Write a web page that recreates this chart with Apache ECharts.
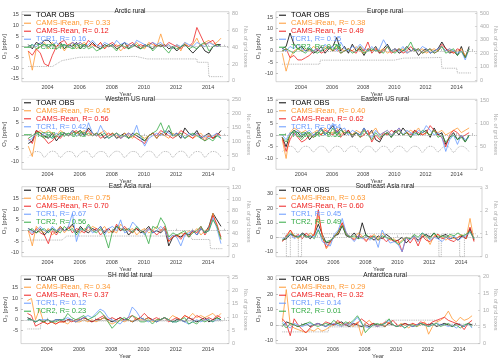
<!DOCTYPE html>
<html>
<head>
<meta charset="utf-8">
<script src="https://cdn.jsdelivr.net/npm/echarts@6/dist/echarts.min.js"></script>
<style>html,body{margin:0;background:#fff}#c{width:500px;height:360px}</style>
</head>
<body>
<div id="c"></div>
<script>
// quarterly time stamps (decimal years), 2002.8 .. 2014.8
var t = [];
for (var i = 0; i < 49; i++) t.push(+(2002.8 + i * 0.25).toFixed(2));

var titles = ['Arctic rural', 'Europe rural', 'Western US rural', 'Eastern US rural',
              'East Asia rural', 'Southeast Asia rural', 'SH mid lat rural', 'Antarctica rural'];
var rCamsI = ['0.33', '0.38', '0.45', '0.40', '0.75', '0.63', '0.34', '0.29'];
var rCams  = ['0.12', '0.49', '0.56', '0.62', '0.70', '0.60', '0.37', '0.32'];
var rTcr1  = ['0.16', '0.15', '0.42', '0.54', '0.67', '0.45', '0.12', '0.14'];
var rTcr2  = ['0.09', '0.28', '0.42', '0.56', '0.56', '0.49', '0.23', '0.01'];

// Arctic
var arcticObs   = [1, -1,2,1,3, 3,1,0,2, -1,1,0,2, -1,1,0,2, 0,-1,1,0, 1,-1,0,2, -1,1,0,-1, 1,0,-1,1, 0,1,-1,0, -2,0,1,-1, -3,-1,1,-2, -3,0,1,1];
var arcticCamsI = [-2, -11,-1,0,2, -1,2,0,1, -2,1,2,-1, 1,2,0,1, 0,2,-1,1, 0,1,-2,0, 1,0,2,0, -1,2,1,0, 6,0,1,-1, 1,-2,2,0, 1,4,0,2, 3,1,2,4];
var arcticCams  = [-2, -4,-1,-3,-8, -9,-4,0,2, 3,0,2,1, 2,0,3,1, 0,2,-1,1, 2,0,1,-1, 1,2,0,1, 0,1,2,0, 1,0,2,1, 0,-1,1,0, 2,9,5,1, 2,3,0,1];
var arcticTcr1  = [0, 1,0,2,1, 0,1,2,0, 1,0,2,1, 2,0,1,3, 1,0,2,1, 0,3,1,2, 1,0,3,2, 1,0,2,1, 2,0,1,-1, 1,0,2,1, 0,2,1,0, 2,1,0,1];
var arcticTcr2  = [0, 1,-1,0,1, 0,1,-1,0, 1,0,-1,1, 0,1,-1,0, -2,-1,0,1, 0,-2,1,0, -1,0,1,-1, 0,1,-2,0, 1,-1,-3,0, -1,0,1,-1, 0,-1,1,2, -2,0,1,0];
var arcticCountT = [2002.8, 2004.3, 2004.9, 2006, 2009.5, 2010.2, 2013.3, 2013.32, 2014.0, 2014.05, 2014.9];
var arcticCount  = [17, 17, 24, 28, 29, 26, 26, 22, 22, 5, 5];

// Europe
var euroObs   = [1, 2,8,3,1, 2,0,1,-1, 0,2,-1,1, 2,6,0,2, -1,3,0,1, -2,1,0,2, -1,1,3,0, 1,-1,0,2, 0,1,-2,0, 1,-1,0,1, 4,1,-1,0, -2,2,-3,2];
var euroCamsI = [-1, -9,-3,0,1, 0,1,0,2, 1,0,2,1, 0,2,1,0, 1,0,2,0, -1,1,0,1, 0,1,-1,0, 1,0,1,-1, 0,1,0,1, -1,0,1,0, 2,0,1,-1, 0,1,-2,0];
var euroCams  = [0, 1,-3,-2,-4, -4,-3,-2,0, 1,-1,0,2, 0,1,-1,0, 1,0,-1,2, 0,4,-1,1, -1,0,2,-1, 0,1,-1,0, 2,0,1,-1, 0,1,-1,0, 3,1,0,-1, 1,0,-3,1];
var euroTcr1  = [1, 0,2,1,3, 1,0,2,0, 1,0,3,1, 2,0,4,1, 0,2,1,3, 1,0,2,0, 1,5,2,0, 1,0,2,-1, 0,1,0,2, 1,-1,0,1, 2,0,1,0, -1,0,-4,1];
var euroTcr2  = [0, 1,0,-1,1, 0,-1,1,0, -1,0,1,2, 0,3,-1,0, 1,-1,0,2, -1,0,1,0, 0,-1,2,0, -1,1,0,1, 4,0,1,-1, 0,1,-1,0, 2,-1,0,1, -2,0,-3,1];
var euroCountT = [2002.8, 2005.2, 2005.25, 2010.0, 2010.6, 2013.0, 2013.05, 2014.0, 2014.05, 2014.9];
var euroCount  = [120, 120, 150, 150, 165, 170, 90, 90, 55, 55];

// Western US
var wusObs   = [-3, -2,2,1,0, -1,1,-2,0, 1,0,2,1, 2,0,3,1, 0,1,-1,0, 1,-1,0,1, -1,1,0,-1, -2,0,1,-1, 1,0,2,0, 1,-1,3,1, 0,2,-1,0, 1,-1,0,2];
var wusCamsI = [-4, -8,1,2,1, 2,1,0,2, 1,0,2,1, 1,2,0,1, 0,1,2,0, 1,0,-1,1, 0,-1,1,0, -1,0,1,-1, 1,0,-1,1, 0,1,-1,0, -1,0,1,-1, 0,-1,1,0];
var wusCams  = [-1, -3,2,1,-1, -3,-2,0,-1, 1,0,1,2, 0,1,2,0, 1,-1,0,1, 0,1,-1,0, 1,0,-1,-2, -3,0,1,0, 2,1,0,-1, 0,2,1,0, -1,1,0,-2, 0,-1,1,0];
var wusTcr1  = [-2, -1,1,0,1, 0,-1,1,0, 1,0,2,0, 1,0,5,1, 0,4,1,-1, 0,1,-1,0, 1,0,4,-1, -4,-1,0,1, 0,2,1,0, 1,0,-1,1, 0,1,-1,0, -1,0,1,-1];
var wusTcr2  = [-1, 0,1,0,-1, 0,-1,0,1, 0,1,0,1, 2,0,1,0, 1,0,1,-1, 0,1,0,0, -1,0,1,0, -2,0,1,2, 5,1,4,0, 0,1,-1,0, 1,0,-1,-2, -1,-2,0,-1];
var wusCount = [43, 57,64,61,44, 58,65,60,43, 57,64,61,44, 58,65,60,43, 57,64,61,44, 58,65,60,43, 57,64,61,44, 58,65,60,43, 57,64,61,44, 58,65,60,43, 57,64,61,44, 58,64,60,44];

// Eastern US
var eusObs   = [-1, -5,0,2,1, -1,1,-2,0, 1,3,0,2, 4,1,3,0, 2,-1,1,0, 3,0,2,-2, -3,0,1,-1, 2,0,3,1, -1,2,0,1, 2,-1,3,0, 1,-4,-1,1, -2,0,-3,0];
var eusCamsI = [-2, -10,1,3,2, 1,2,0,1, 2,0,3,1, 1,3,0,2, 1,0,2,1, 2,0,1,3, 0,1,2,0, 1,2,0,1, 2,1,3,0, 1,0,2,1, 2,0,1,2, 3,1,2,3];
var eusCams  = [-1, -7,-2,1,-1, -3,-2,0,-1, 1,0,2,1, 0,2,-1,1, 2,0,1,-1, 0,2,-3,0, -2,1,0,2, 1,3,0,1, 0,2,1,0, 1,4,2,0, -1,-5,0,2, 1,-1,0,1];
var eusTcr1  = [0, -2,1,0,2, 0,1,2,0, 1,3,0,2, 5,1,2,3, 0,2,1,0, 3,0,-1,2, 0,1,2,0, 1,3,0,2, 1,0,2,1, 4,2,0,1, -1,-7,-2,0, -4,0,-2,-1];
var eusTcr2  = [-1, -3,0,2,0, -2,0,1,-1, 0,2,1,0, 3,0,2,1, 1,0,1,-1, 2,0,-2,1, -1,0,1,-1, 1,2,0,1, -1,1,0,2, 1,0,2,-1, 0,-3,-1,0, -2,-1,-3,0];
var eusCount = [38, 46,50,47,37, 46,50,47,38, 46,50,47,37, 46,50,47,38, 46,50,47,37, 46,50,47,38, 46,50,47,37, 46,50,47,38, 46,50,47,37, 46,50,47,38, 46,50,47,37, 46,50,47,38];

// East Asia
var easObs   = [1, 0,-1,1,-2, 0,1,-1,2, 0,1,3,-1, 2,0,-1,1, 0,2,-1,1, -1,2,0,1, -2,0,1,-1, 0,2,-1,0, -1,1,-7,-3, -2,-3,-1,-2, 0,-2,1,-1, 2,8,5,2];
var easCamsI = [0, -7,2,0,-1, 1,-2,0,2, -1,1,2,0, -1,1,0,2, 1,0,2,-1, 0,-1,3,1, 0,1,-2,0, 1,-1,0,2, 0,1,-5,-2, -3,-1,-2,0, -1,1,-2,0, 1,8,2,-4];
var easCams  = [0, -2,1,-1,-2, -6,0,-2,1, 0,2,-1,1, 0,-1,2,0, 1,-2,0,1, -1,3,0,2, 0,-1,1,0, -1,1,0,-2, 0,2,-5,-3, -2,-4,-1,-3, 0,-1,2,-2, 1,7,3,-3];
var easTcr1  = [1, -1,0,2,0, -1,2,0,1, 0,2,8,-5, 1,0,2,-1, 0,2,-2,1, 2,0,5,-1, 0,4,2,0, -2,1,-1,0, 2,0,-4,-2, -3,-7,-2,-1, 0,-2,1,-1, 0,6,1,-6];
var easTcr2  = [0, 1,-1,0,1, -1,1,0,-1, 2,0,1,-2, 1,0,3,0, -1,1,-2,-8, 0,2,1,0, 1,-1,2,0, -1,-6,2,1, 6,3,-3,-1, -2,-1,0,-3, -1,0,2,-1, 0,5,2,-4];
var easCountT = [2002.8, 2004.9, 2005.2, 2012.9, 2013.0, 2014.1, 2014.15, 2014.9];
var easCount  = [29, 29, 36, 36, 30, 30, 14, 14];

// Southeast Asia
var seaObs   = [-2, -1,2,1,0, 3,1,-1,2, 9,2,-4,-3, 1,2,8,1, 0,3,-1,10, 1,0,-2,1, -1,2,0,-3, -2,0,-4,-1, 1,-2,0,2, 0,3,-1,1, 2,-1,0,-2, 1,-1,6,-2];
var seaCamsI = [-2, 0,5,1,-1, 2,0,3,1, 15,2,-8,-4, 1,3,10,2, 0,-1,3,1, -2,0,2,-1, 3,0,-2,-1, -4,-2,0,-1, 1,-3,2,0, -5,1,2,0, -2,1,-1,0, 2,-1,13,-2];
var seaCams  = [-3, 1,5,0,2, -1,3,0,2, 19,0,-7,-3, 0,4,10,3, 0,-2,1,0, -3,1,0,-2, 0,-3,-1,-3, -2,-10,0,-4, 0,-6,1,-2, -3,0,2,-1, 0,-2,-3,0, 1,-1,7,-3];
var seaTcr1  = [-1, 0,2,-1,1, 2,0,1,0, 6,-3,-5,-6, 2,5,13,3, 0,-3,1,-1, 0,-2,1,-7, 5,0,-4,-3, -5,-10,0,-2, 1,-3,3,1, -2,0,-1,-3, 0,-1,1,-2, 0,1,4,-1];
var seaTcr2  = [-2, 0,3,1,0, 2,0,1,-1, 5,-1,-3,-2, 0,4,8,2, 0,1,-1,0, 2,-1,1,-2, 1,0,-1,-2, -5,-3,0,-1, 2,0,3,1, -1,3,0,1, 0,2,1,3, 1,2,4,-1];
var seaCountT = [2002.8, 2003.05, 2003.05, 2003.3, 2003.3, 2003.8, 2003.8, 2004.0, 2004.0, 2012.6, 2012.6, 2012.75, 2012.75, 2013.9, 2013.9, 2014.2, 2014.2, 2014.9];
var seaCount  = [1, 1, 0, 0, 1, 1, 0, 0, 1, 1, 0, 0, 1, 1, 0, 0, 1, 1];

// SH mid latitudes
var shmObs   = [1, 0,-1,0,-1, 0,-1,0,0, -1,0,0,-1, 0,1,0,-1, 0,0,1,0, -1,0,1,0, 0,-1,0,1, 0,1,0,-1, 0,1,0,-1, 0,0,-1,1, 0,-1,0,1, -1,0,1,0];
var shmCamsI = [9, 10,0,5,-1, -2,-1,-2,-1, -1,-2,0,-1, -1,0,-1,0, -1,0,1,-1, -2,-1,0,-1, 0,-1,1,0, 0,1,-1,0, 0,1,0,2, 1,0,2,1, 3,1,2,1, 2,3,1,3];
var shmCams  = [3, 2,-3,-2,-1, -2,-1,-2,-1, -1,0,-1,0, 0,1,0,-1, 0,1,2,0, 1,0,1,0, 1,2,0,1, 3,1,0,1, 0,1,-1,0, 1,0,2,1, 0,2,1,0, 1,0,2,1];
var shmTcr1  = [0, 0,-1,0,0, 0,-1,0,0, 0,1,0,-1, 0,1,2,1, 3,5,4,1, 0,-1,-2,0, 1,6,4,1, 0,-1,0,-1, 0,1,0,-1, -1,0,-1,-2, -1,0,-1,0, 0,-1,0,0];
var shmTcr2  = [0, 0,-1,0,-1, 0,-1,-1,0, 0,3,1,0, 1,2,0,1, 2,4,2,-1, -4,-2,0,1, 0,2,1,-1, -1,0,-2,0, 0,1,0,-1, -1,0,1,-2, -1,-2,0,-1, 0,-1,1,0];
var shmCountT = [2002.8, 2003.6, 2003.65, 2014.9];
var shmCount  = [5.5, 5.5, 8.5, 8.5];

// Antarctica
var antObs   = [-1, 2,1,0,-1, 0,1,-1,0, 1,0,-1,1, 0,1,2,0, -1,1,0,-1, 0,-1,1,0, 0,-1,1,0, -1,0,1,0, -1,0,1,0, 0,1,-1,0, 1,0,-1,1, 0,-1,1,0];
var antCamsI = [2, 23,0,-2,-3, -4,-5,-3,-4, -2,-4,-3,-1, 0,2,-1,1, 0,-1,2,-7, 1,3,0,-1, 1,-1,2,0, -1,1,0,-2, 1,-1,0,2, -6,-1,2,3, 5,9,4,2, 5,3,4,6];
var antCams  = [4, 1,-7,4,0, -3,-5,-2,0, 1,0,2,1, 0,3,1,0, 2,0,1,4, 2,0,1,-1, 0,2,1,3, 0,-1,1,0, 1,0,2,1, 0,2,3,4, 5,3,2,1, 0,-3,1,3];
var antTcr1  = [2, 0,-2,1,0, -1,0,1,0, 1,0,-1,0, 1,0,-1,1, 0,2,5,1, -1,-2,0,-1, 0,1,3,0, -1,0,-2,0, -1,0,1,0, -1,0,1,0, 0,-1,0,-2, 0,-1,1,-2];
var antTcr2  = [1, -2,1,0,-1, 0,1,2,0, -1,0,1,0, 3,1,0,2, 1,3,6,2, -5,-2,0,1, 0,1,4,0, -1,0,-2,0, 0,-1,1,0, -1,0,1,-1, 0,1,-1,0, -2,0,1,-1];
var antCountT = [2002.8, 2005.7, 2005.75, 2009.3, 2009.35, 2012.6, 2012.65, 2014.9];
var antCount  = [3.5, 3.5, 5, 5, 7, 7, 5.8, 5.8];

// per-panel axis ranges and tick labels
var leftMin  = [-16.4, -13.7, -12.9, -14.6, -12, -13.4, -11.2, -12.1];
var leftMax  = [16.4, 17.5, 14, 15.2, 20.3, 34.9, 20.7, 32];
var leftTicks = [[-15,-10,-5,0,5,10,15], [-10,-5,0,5,10,15], [-10,-5,0,5,10], [-10,-5,0,5,10,15],
                 [-10,-5,0,5,10,15], [-10,0,10,20,30], [-5,0,5,10,15], [-10,0,10,20,30]];
var rightMin = [-1, -10, 0, 0, 0, 0, 0, 0];
var rightMax = [82, 510, 252, 152, 122, 3.05, 25.5, 20.3];
var rightTicks = [[0,20,40,60,80], [0,100,200,300,400,500], [0,50,100,150,200,250], [0,50,100,150],
                  [0,20,40,60,80,100,120], [0,1,2,3], [0,5,10,15,20,25], [0,5,10,15,20]];
var yearTicks = [2003,2004,2005,2006,2007,2008,2009,2010,2011,2012,2013,2014,2015];
var yearLabels = [2004,2006,2008,2010,2012,2014];

var obs   = [arcticObs, euroObs, wusObs, eusObs, easObs, seaObs, shmObs, antObs];
var camsI = [arcticCamsI, euroCamsI, wusCamsI, eusCamsI, easCamsI, seaCamsI, shmCamsI, antCamsI];
var cams  = [arcticCams, euroCams, wusCams, eusCams, easCams, seaCams, shmCams, antCams];
var tcr1  = [arcticTcr1, euroTcr1, wusTcr1, eusTcr1, easTcr1, seaTcr1, shmTcr1, antTcr1];
var tcr2  = [arcticTcr2, euroTcr2, wusTcr2, eusTcr2, easTcr2, seaTcr2, shmTcr2, antTcr2];
var countT = [arcticCountT, euroCountT, t, t, easCountT, seaCountT, shmCountT, antCountT];
var count  = [arcticCount, euroCount, wusCount, eusCount, easCount, seaCount, shmCount, antCount];

var colors = ['#000000', '#ff9933', '#ee2222', '#6699ff', '#33aa44'];
var FONT = 'Liberation Sans, Arial, sans-serif';
var colX = [21, 276], rowY = [11.7, 99.3, 186.7, 275.7], W = 208, H = 70;

function pairs(xs, ys) { return ys.map(function (v, j) { return [xs[j], v]; }); }

var grids = [], xAxes = [], yAxes = [], series = [], legends = [], titleList = [];
for (var k = 0; k < 8; k++) {
  var col = k % 2, row = Math.floor(k / 2);
  grids.push({left: colX[col], top: rowY[row], width: W, height: H, show: true,
              borderColor: '#bbbbbb', borderWidth: 0.6, backgroundColor: 'transparent'});
  titleList.push({text: titles[k], left: colX[col] + W / 2, top: rowY[row] - 8.5, textAlign: 'center',
                  textStyle: {fontSize: 6.5, fontWeight: 'normal', color: '#222', fontFamily: FONT}});
  xAxes.push({gridIndex: k, type: 'value', min: 2002.4, max: 2015.3,
    name: 'Year', nameLocation: 'middle', nameGap: 8,
    nameTextStyle: {fontSize: 6, color: '#444', fontFamily: FONT},
    axisLine: {show: false}, splitLine: {show: false},
    axisTick: {inside: true, length: 2, customValues: yearTicks, lineStyle: {color: '#999', width: 0.6}},
    axisLabel: {customValues: yearLabels, fontSize: 5.5, color: '#444', margin: 2.5, fontFamily: FONT,
                formatter: function (v) { return String(v); }}});
  yAxes.push({gridIndex: k, type: 'value', min: leftMin[k], max: leftMax[k],
    name: 'O\u2083 [ppbv]', nameLocation: 'middle', nameGap: 12,
    nameTextStyle: {fontSize: 6, color: '#444', fontFamily: FONT},
    axisLine: {show: false}, splitLine: {show: false},
    axisTick: {inside: true, length: 2, customValues: leftTicks[k], lineStyle: {color: '#999', width: 0.6}},
    axisLabel: {customValues: leftTicks[k], fontSize: 5.5, color: '#444', margin: 3, fontFamily: FONT}});
  yAxes.push({gridIndex: k, type: 'value', position: 'right', min: rightMin[k], max: rightMax[k],
    name: 'No. of grid boxes', nameLocation: 'middle', nameGap: 11, nameRotate: -90,
    nameTextStyle: {fontSize: 5.5, color: '#aaa', fontFamily: FONT},
    axisLine: {show: false}, splitLine: {show: false},
    axisTick: {inside: true, length: 2, customValues: rightTicks[k], lineStyle: {color: '#bbb', width: 0.6}},
    axisLabel: {customValues: rightTicks[k], fontSize: 5.5, color: '#aaa', margin: 3, fontFamily: FONT}});

  series.push({type: 'line', xAxisIndex: k, yAxisIndex: 2 * k + 1, data: pairs(countT[k], count[k]),
    symbol: 'none', smooth: (k === 2 || k === 3), silent: true,
    lineStyle: {color: '#aaaaaa', width: 0.9, type: 'dotted'}});

  var names = ['TOAR OBS', 'CAMS-iRean, R= ' + rCamsI[k], 'CAMS-Rean, R= ' + rCams[k],
               'TCR1, R= ' + rTcr1[k], 'TCR2, R= ' + rTcr2[k]];
  var sets = [obs[k], camsI[k], cams[k], tcr1[k], tcr2[k]];
  for (var s = 0; s < 5; s++) {
    var ser = {type: 'line', name: names[s], xAxisIndex: k, yAxisIndex: 2 * k,
      data: pairs(t, sets[s]), symbol: 'none', silent: true,
      itemStyle: {color: colors[s]}, lineStyle: {color: colors[s], width: 0.8}};
    if (s === 0) {
      ser.markLine = {silent: true, symbol: 'none', label: {show: false},
        lineStyle: {color: '#aaaaaa', type: 'dotted', width: 0.9}, data: [{yAxis: 0}]};
    }
    series.push(ser);
  }
  legends.push({orient: 'vertical', left: colX[col] + 3, top: rowY[row] - 0.5, padding: 0,
    icon: 'rect', itemWidth: 7, itemHeight: 1, itemGap: 0, selectedMode: false,
    textStyle: {fontSize: 7.5, lineHeight: 5.6, fontFamily: FONT},
    data: names.map(function (n, j) {
      return {name: n, itemStyle: {color: colors[j]}, textStyle: {color: colors[j]}};
    })});
}

var chart = echarts.init(document.getElementById('c'), null, {renderer: 'canvas'});
chart.setOption({
  animation: false,
  backgroundColor: '#ffffff',
  title: titleList,
  grid: grids,
  xAxis: xAxes,
  yAxis: yAxes,
  legend: legends,
  series: series
});
</script>
</body>
</html>
